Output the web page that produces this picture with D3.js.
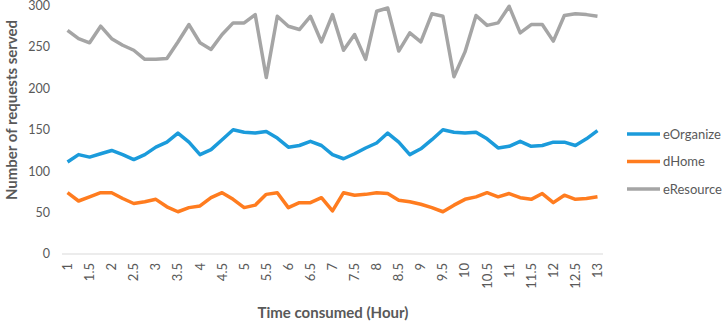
<!DOCTYPE html>
<html>
<head>
<meta charset="utf-8">
<script src="https://cdn.jsdelivr.net/npm/d3@7"></script>
<style>
  body { margin: 0; background: #fff; }
  text { font-family: Lato, "Open Sans", sans-serif; fill: #595959; }
</style>
</head>
<body>
<div id="chart"></div>
<script>
"use strict";

// hours on the x axis, one point every quarter hour
const hours = [1, 1.25, 1.5, 1.75, 2, 2.25, 2.5, 2.75, 3, 3.25, 3.5, 3.75, 4, 4.25, 4.5, 4.75,
    5, 5.25, 5.5, 5.75, 6, 6.25, 6.5, 6.75, 7, 7.25, 7.5, 7.75, 8, 8.25, 8.5, 8.75,
    9, 9.25, 9.5, 9.75, 10, 10.25, 10.5, 10.75, 11, 11.25, 11.5, 11.75, 12, 12.25, 12.5, 12.75, 13];

const tickLabels = [1, 1.5, 2, 2.5, 3, 3.5, 4, 4.5, 5, 5.5, 6, 6.5, 7, 7.5, 8, 8.5, 9, 9.5,
    10, 10.5, 11, 11.5, 12, 12.5, 13];

const yTicks = [0, 50, 100, 150, 200, 250, 300];

const eOrganize = [111, 120, 117, 121, 125, 120, 114, 120, 129, 135, 146, 135, 120, 126, 138, 150,
    147, 146, 148, 140, 129, 131, 136, 131, 120, 115, 121, 128, 134, 146, 135, 120,
    127, 138, 150, 147, 146, 147, 139, 128, 130, 136, 130, 131, 135, 135, 131, 139, 149];

const dHome = [74, 64, 69, 74, 74, 67, 61, 63, 66, 57, 51, 56, 58, 68, 74, 66,
    56, 59, 72, 74, 56, 62, 62, 68, 52, 74, 71, 72, 74, 73, 65, 63,
    60, 56, 51, 59, 66, 69, 74, 69, 73, 68, 66, 73, 62, 71, 66, 67, 69];

const eResource = [270, 260, 255, 275, 260, 252, 246, 235, 235, 236, 256, 277, 255, 247, 265, 279,
    279, 289, 213, 287, 275, 271, 287, 256, 289, 246, 265, 235, 293, 297, 245, 267,
    256, 290, 287, 214, 244, 288, 276, 279, 299, 267, 277, 277, 257, 288, 290, 289, 287];

const seriesNames = ["eOrganize", "dHome", "eResource"];
const seriesColors = ["#1b9bdb", "#ff7c1f", "#a5a5a5"];
const seriesValues = [eOrganize, dHome, eResource];

const width = 726, height = 322;
const plot = { left: 62, right: 603, top: 5.5, bottom: 254 };

const svg = d3.select("#chart").append("svg")
    .attr("width", width)
    .attr("height", height);

const x = d3.scalePoint()
    .domain(hours)
    .range([plot.left, plot.right])
    .padding(0.5);

const y = d3.scaleLinear()
    .domain([0, 300])
    .range([plot.bottom, plot.top]);

// y tick labels
svg.append("g")
    .selectAll("text")
    .data(yTicks)
    .enter()
    .append("text")
    .attr("x", 50)
    .attr("y", d => y(d))
    .attr("dy", "0.35em")
    .attr("text-anchor", "end")
    .style("font-size", "12.5px")
    .text(d => d);

// baseline
svg.append("line")
    .attr("x1", plot.left)
    .attr("x2", plot.right)
    .attr("y1", y(0))
    .attr("y2", y(0))
    .attr("stroke", "#d9d9d9")
    .attr("stroke-width", 1);

// x tick labels, rotated
svg.append("g")
    .selectAll("text")
    .data(tickLabels)
    .enter()
    .append("text")
    .attr("transform", d => "translate(" + (x(d) + 4.5) + "," + 263 + ") rotate(-90)")
    .attr("text-anchor", "end")
    .style("font-size", "13px")
    .text(d => d);

// lines
const line = d3.line()
    .x((d, i) => x(hours[i]))
    .y(d => y(d));

seriesValues.forEach(function (vals, k) {
    svg.append("path")
        .datum(vals)
        .attr("fill", "none")
        .attr("stroke", seriesColors[k])
        .attr("stroke-width", 3.5)
        .attr("stroke-linejoin", "round")
        .attr("d", line);
});

// axis titles
svg.append("text")
    .attr("transform", "translate(" + 17 + "," + 110 + ") rotate(-90)")
    .attr("text-anchor", "middle")
    .style("font-size", "15px")
    .style("font-weight", "bold")
    .text("Number of requests served");

svg.append("text")
    .attr("x", 333)
    .attr("y", 318)
    .attr("text-anchor", "middle")
    .style("font-size", "15px")
    .style("font-weight", "bold")
    .text("Time consumed (Hour)");

// legend
const legend = svg.append("g")
    .selectAll("g")
    .data(seriesNames)
    .enter()
    .append("g")
    .attr("transform", (d, i) => "translate(627," + (134 + i * 27.5) + ")");

legend.append("line")
    .attr("x1", 0)
    .attr("x2", 33)
    .attr("stroke", (d, i) => seriesColors[i])
    .attr("stroke-width", 3.5);

legend.append("text")
    .attr("x", 36)
    .attr("dy", "0.35em")
    .style("font-size", "13px")
    .text(d => d);
</script>
</body>
</html>
